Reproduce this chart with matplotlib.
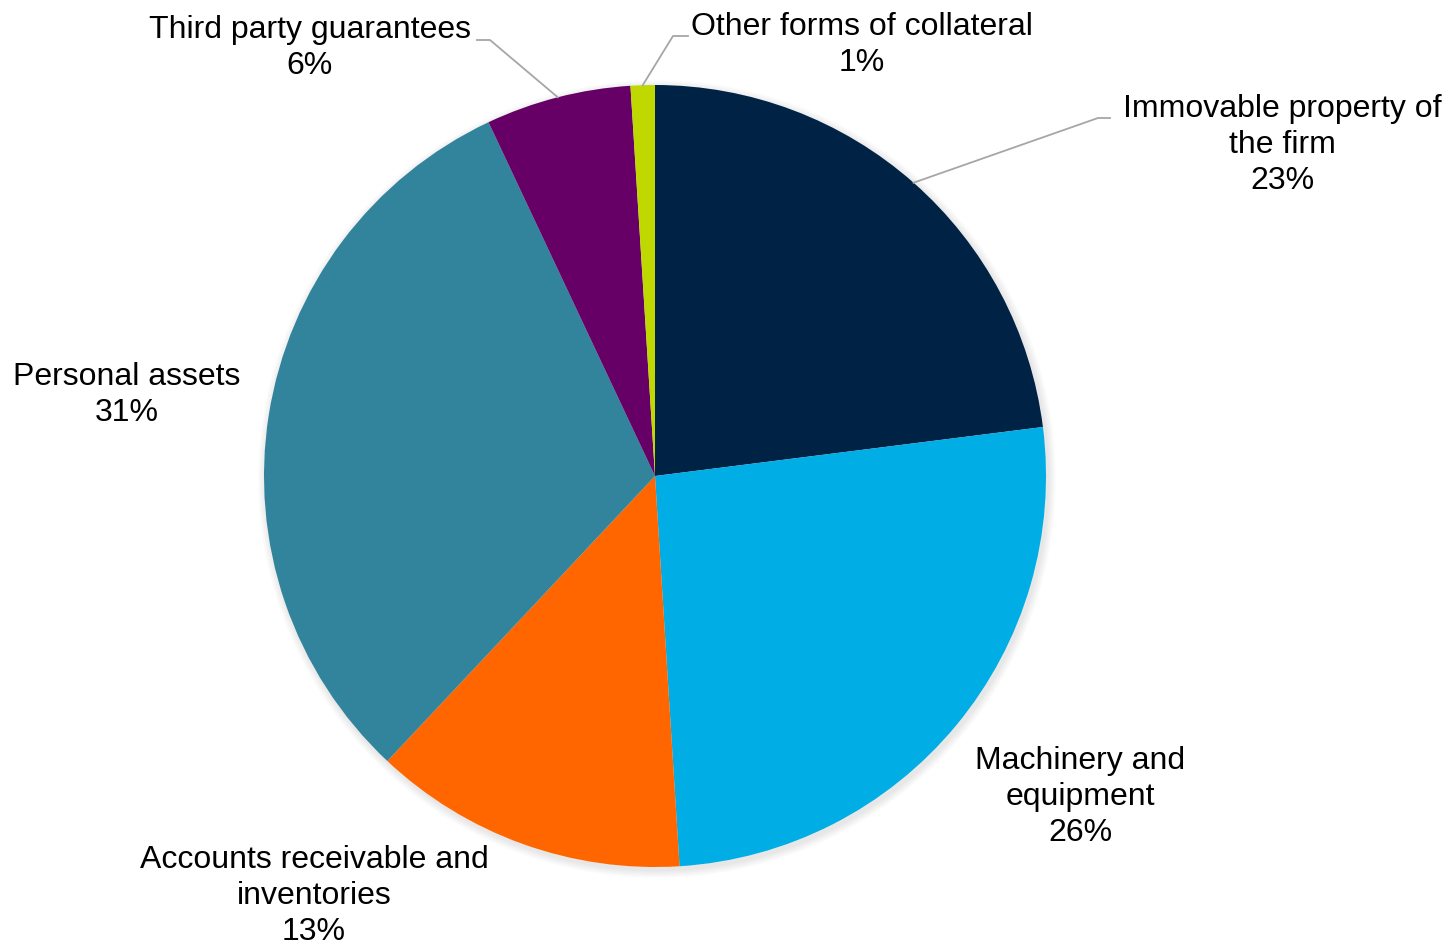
import numpy as np
import matplotlib.pyplot as plt

# Collateral types and shares (%)
categories = ["Immovable property of\nthe firm", "Machinery and\nequipment",
              "Accounts receivable and\ninventories", "Personal assets",
              "Third party guarantees", "Other forms of collateral"]
shares = [23, 26, 13, 31, 6, 1]
colors = ["#002244", "#00ADE4", "#FF6600", "#31849B", "#660066", "#BFD900"]

W, H = 1446, 947
cx, cy, r = 655, H - 476, 391

# label centres (pixels, y measured from the top) and leader elbows
label_xy = [(1282, 145), (1080, 797), (314, 896), (127, 395), (310, 48), (862, 45)]
elbows = {0: [(1110, 118), (1098, 118)], 4: [(477, 40), (490, 40)], 5: [(688, 36), (673, 36)]}

plt.rcParams['font.family'] = ['Liberation Sans', 'DejaVu Sans']
fig = plt.figure(figsize=(W / 100, H / 100), dpi=100)
ax = fig.add_axes([0, 0, 1, 1])

# soft shadow under the pie
for k in range(8):
    ax.add_patch(plt.Circle((cx + 2, cy - 3), r + 8 - k, color="#000000",
                            alpha=0.012, linewidth=0, zorder=0))

wedges, _ = ax.pie(shares, colors=colors, startangle=90, counterclock=False,
                   center=(cx, cy), radius=r, wedgeprops=dict(linewidth=0))

for i, w in enumerate(wedges):
    lx, ly = label_xy[i]
    ax.text(lx, H - ly, f"{categories[i]}\n{shares[i]:.0f}%", ha="center", va="center",
            fontsize=23, color="black", linespacing=1.26)
    if i in elbows:
        mid = np.deg2rad((w.theta1 + w.theta2) / 2)
        ex, ey = cx + r * np.cos(mid), cy + r * np.sin(mid)
        pts = [(x, H - y) for x, y in elbows[i]] + [(ex, ey)]
        ax.plot([p[0] for p in pts], [p[1] for p in pts], color="#A6A6A6", lw=1.3, zorder=3)

ax.set_xlim(0, W)
ax.set_ylim(0, H)
ax.set_aspect("equal")
ax.axis("off")
fig.savefig("out.png", dpi=100)
